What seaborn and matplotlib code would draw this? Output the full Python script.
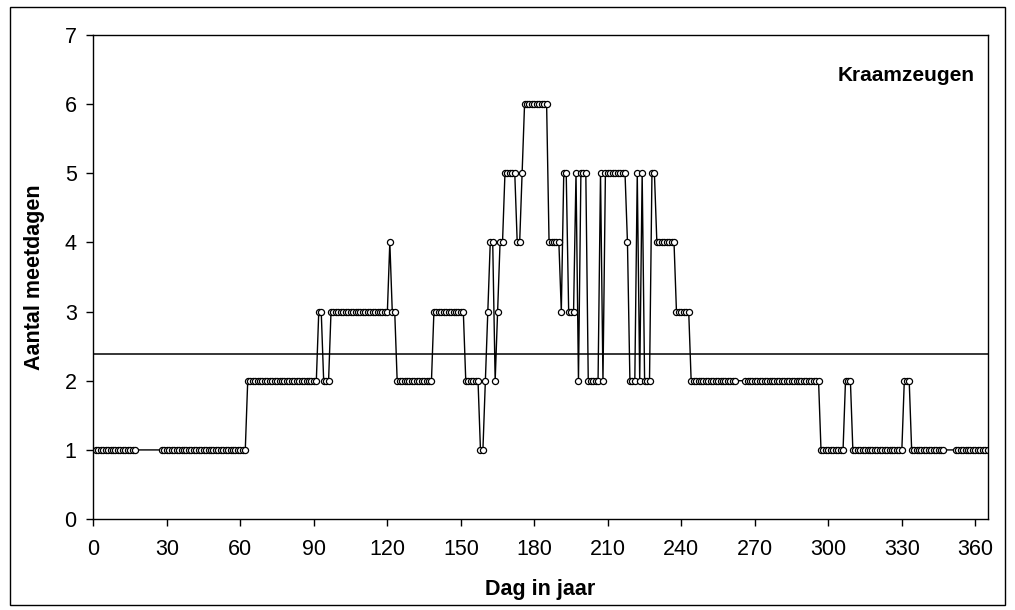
import seaborn as sns
import matplotlib.pyplot as plt
import pandas

# dagnummers (met gaten waar geen meting was)
dag = (list(range(1, 18)) + list(range(28, 263)) + list(range(266, 348))
       + list(range(352, 366)))

# aantal meetdagen per dag
waarde = (
    [1] * 17            # 1-17
    + [1] * 35          # 28-62
    + [2] * 29          # 63-91
    + [3, 3, 2, 2, 2]   # 92-96
    + [3] * 24          # 97-120
    + [4, 3, 3]         # 121-123
    + [2] * 15          # 124-138
    + [3] * 13          # 139-151
    + [2, 2, 2, 2, 2, 2, 1, 1, 2, 3, 4, 4, 2, 3, 4, 4]   # 152-167
    + [5, 5, 5, 5, 5, 4, 4, 5]                         # 168-175
    + [6] * 10          # 176-185
    + [4, 4, 4, 4, 4, 3, 5, 5, 3, 3, 3, 5, 2, 5, 5, 5]   # 186-201
    + [2, 2, 2, 2, 2, 5, 2]                            # 202-208
    + [5] * 9           # 209-217
    + [4, 2, 2, 2, 5, 2, 5, 2, 2, 2, 5, 5]             # 218-229
    + [4] * 8           # 230-237
    + [3] * 6           # 238-243
    + [2] * 19          # 244-262
    + [2] * 31          # 266-296
    + [1] * 10          # 297-306
    + [2, 2, 2]         # 307-309
    + [1] * 21          # 310-330
    + [2, 2, 2]         # 331-333
    + [1] * 14          # 334-347
    + [1] * 14          # 352-365
)

gemiddelde = 2.38
x_ticks = list(range(0, 361, 30))
y_ticks = list(range(0, 8))

df = pandas.DataFrame({'dag': dag, 'meetdagen': waarde})

sns.set_style('white')
plt.rcParams['font.family'] = ['Liberation Sans', 'DejaVu Sans']
plt.rcParams['text.color'] = 'black'
plt.rcParams['axes.labelcolor'] = 'black'
plt.rcParams['xtick.color'] = 'black'
plt.rcParams['ytick.color'] = 'black'

fig, ax = plt.subplots(figsize=(10.15, 6.1), dpi=100)
fig.subplots_adjust(left=0.092, right=0.973, top=0.943, bottom=0.149)

ax.axhline(gemiddelde, color='black', linewidth=1.1, zorder=1)
sns.lineplot(data=df, x='dag', y='meetdagen', ax=ax, color='black', linewidth=1,
             marker='o', markersize=4.4, markerfacecolor='white',
             markeredgecolor='black', markeredgewidth=0.9, zorder=2)

ax.set_xlim(0, 365)
ax.set_ylim(0, 7)
ax.set_xticks(x_ticks)
ax.set_yticks(y_ticks)
ax.tick_params(axis='both', direction='out', length=5, width=1, labelsize=15.5,
               color='black', labelcolor='black', left=True, bottom=True)
ax.tick_params(axis='x', pad=9)
ax.tick_params(axis='y', pad=7)
for s in ax.spines.values():
    s.set_color('black')
    s.set_linewidth(1)

ax.set_xlabel('Dag in jaar', fontsize=15.5, fontweight='bold', labelpad=14, color='black')
ax.set_ylabel('Aantal meetdagen', fontsize=15.5, fontweight='bold', labelpad=14, color='black')
ax.text(0.985, 0.915, 'Kraamzeugen', transform=ax.transAxes, ha='right', va='center',
        fontsize=15, fontweight='bold', color='black')

fig.add_artist(plt.Rectangle((10 / 1015, 5 / 610), 995 / 1015, 0.98, transform=fig.transFigure,
                             fill=False, edgecolor='black', linewidth=1))

plt.savefig('out.png', dpi=100)
